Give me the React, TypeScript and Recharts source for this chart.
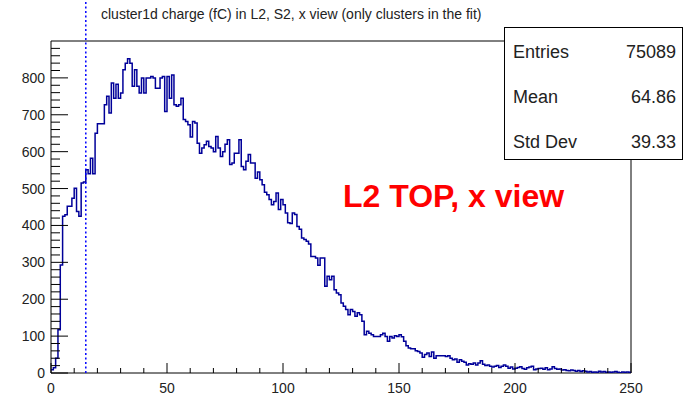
import React from 'react';
import { ComposedChart, Line, XAxis, YAxis, ReferenceLine, ReferenceArea } from 'recharts';

// bin counts, 1 fC bins from 0 to 250
const counts000to049 = [
  9, 14, 40, 117, 293, 425, 429, 452, 452, 474,
  501, 438, 425, 515, 518, 551, 540, 582, 540, 650,
  676, 676, 676, 727, 750, 705, 786, 745, 783, 745,
  759, 822, 840, 852, 840, 777, 822, 777, 759, 800,
  759, 800, 800, 804, 800, 772, 772, 800, 804, 709,
];
const counts050to099 = [
  804, 745, 808, 727, 723, 727, 745, 687, 682, 673,
  640, 682, 678, 623, 596, 610, 619, 628, 614, 610,
  600, 641, 610, 587, 600, 620, 632, 565, 569, 596,
  596, 632, 560, 551, 574, 592, 569, 569, 528, 545,
  524, 510, 490, 483, 470, 456, 465, 488, 443, 470,
];
const counts100to149 = [
  456, 434, 407, 405, 434, 430, 397, 390, 366, 362,
  357, 350, 316, 316, 312, 292, 312, 312, 235, 262,
  253, 262, 226, 217, 212, 190, 181, 172, 158, 172,
  167, 154, 163, 158, 140, 104, 113, 108, 104, 99,
  99, 99, 104, 108, 99, 86, 99, 95, 101, 99,
];
const counts150to199 = [
  104, 98, 86, 74, 68, 66, 66, 60, 58, 54,
  43, 50, 54, 45, 57, 40, 47, 47, 47, 47,
  45, 47, 40, 36, 38, 29, 36, 32, 29, 22,
  25, 24, 27, 22, 27, 33, 24, 20, 22, 18,
  16, 18, 20, 15, 18, 22, 18, 13, 16, 11,
];
const counts200to249 = [
  13, 15, 17, 12, 10, 14, 16, 18, 9, 11,
  12, 13, 10, 14, 9, 11, 17, 12, 10, 11,
  8, 9, 7, 6, 8, 7, 5, 7, 4, 6,
  5, 3, 4, 2, 3, 2, 5, 3, 4, 2,
  3, 2, 3, 4, 2, 1, 3, 2, 3, 2,
];

const xTicks = [0, 10, 20, 30, 40, 50, 60, 70, 80, 90, 100, 110, 120, 130, 140, 150, 160, 170, 180, 190, 200, 210, 220, 230, 240, 250];
const xLabels = [0, 50, 100, 150, 200, 250];
const yTicks = [0, 20, 40, 60, 80, 100, 120, 140, 160, 180, 200, 220, 240, 260, 280, 300, 320, 340, 360, 380, 400, 420, 440, 460, 480, 500, 520, 540, 560, 580, 600, 620, 640, 660, 680, 700, 720, 740, 760, 780, 800, 820, 840, 860, 880];
const yLabels = [0, 100, 200, 300, 400, 500, 600, 700, 800];

const titleText = 'cluster1d charge (fC) in L2, S2, x view (only clusters in the fit)';
const statsNames = ['Entries', 'Mean', 'Std Dev'];
const statsValues = ['75089', '64.86', '39.33'];
const labelText = 'L2 TOP, x view';
const cutValue = 15;
const cutTop = 1011;

const counts = [...counts000to049, ...counts050to099, ...counts100to149, ...counts150to199, ...counts200to249];
const data = counts.map((v, i) => ({ x: i, v }));
data.push({ x: 250, v: counts[counts.length - 1] });

const FONT = '"Liberation Sans", Arial, Helvetica, sans-serif';

const XTick = (props: any) => {
  const { x, y, payload } = props;
  const major = xLabels.includes(payload.value);
  return (
    <g>
      <line x1={x} x2={x} y1={y} y2={y - (major ? 10 : 5)} stroke="#000" strokeWidth={1} />
      {major && (
        <text x={x} y={y + 20} textAnchor="middle" fontSize={14} fontFamily={FONT} fill="#222">
          {payload.value}
        </text>
      )}
    </g>
  );
};

const YTick = (props: any) => {
  const { x, y, payload } = props;
  const major = yLabels.includes(payload.value);
  return (
    <g>
      <line x1={x} x2={x + (major ? 17 : 9)} y1={y} y2={y} stroke="#000" strokeWidth={1} />
      {major && (
        <text x={x - 6} y={y + 5} textAnchor="end" fontSize={14} fontFamily={FONT} fill="#222">
          {payload.value}
        </text>
      )}
    </g>
  );
};

export default function App() {
  return (
    <div style={{ position: 'absolute', left: 0, top: 0, width: 684, height: 397, background: '#fff' }}>
      <ComposedChart width={684} height={397} data={data} margin={{ top: 41, right: 53, bottom: 0, left: 0 }}>
        <XAxis
          dataKey="x"
          type="number"
          domain={[0, 250]}
          ticks={xTicks}
          interval={0}
          tick={<XTick />}
          tickLine={false}
          axisLine={false}
          tickSize={0}
          tickMargin={0}
          height={24}
        />
        <YAxis
          type="number"
          domain={[0, 900]}
          ticks={yTicks}
          interval={0}
          tick={<YTick />}
          tickLine={false}
          axisLine={false}
          tickSize={0}
          tickMargin={0}
          width={51}
          allowDataOverflow
        />
        <ReferenceArea x1={0} x2={250} y1={0} y2={900} fill="none" stroke="#000" strokeWidth={1} fillOpacity={0} ifOverflow="visible" />
        <Line
          dataKey="v"
          type="stepAfter"
          stroke="#000099"
          strokeWidth={1.5}
          dot={false}
          isAnimationActive={false}
        />
        <ReferenceLine
          segment={[{ x: cutValue, y: 0 }, { x: cutValue, y: cutTop }]}
          stroke="#0000ff"
          strokeWidth={1.5}
          strokeDasharray="2 2.5"
          ifOverflow="visible"
        />
      </ComposedChart>
      <svg width={684} height={397} style={{ position: 'absolute', left: 0, top: 0, pointerEvents: 'none' }}>
        <text x={101} y={19} fontSize={14} fontFamily={FONT} fill="#222">{titleText}</text>
        <rect x={504.5} y={27.5} width={178} height={132} fill="#fff" stroke="#000" strokeWidth={1} />
        {statsNames.map((n, i) => (
          <text key={n} x={513} y={58 + i * 45} fontSize={18} fontFamily={FONT} fill="#222">{n}</text>
        ))}
        {statsValues.map((v, i) => (
          <text key={v} x={676} y={58 + i * 45} fontSize={18} fontFamily={FONT} fill="#222" textAnchor="end">{v}</text>
        ))}
        <text x={343} y={207} fontSize={32} fontWeight="bold" fontFamily={FONT} fill="#ff0000">{labelText}</text>
      </svg>
    </div>
  );
}
